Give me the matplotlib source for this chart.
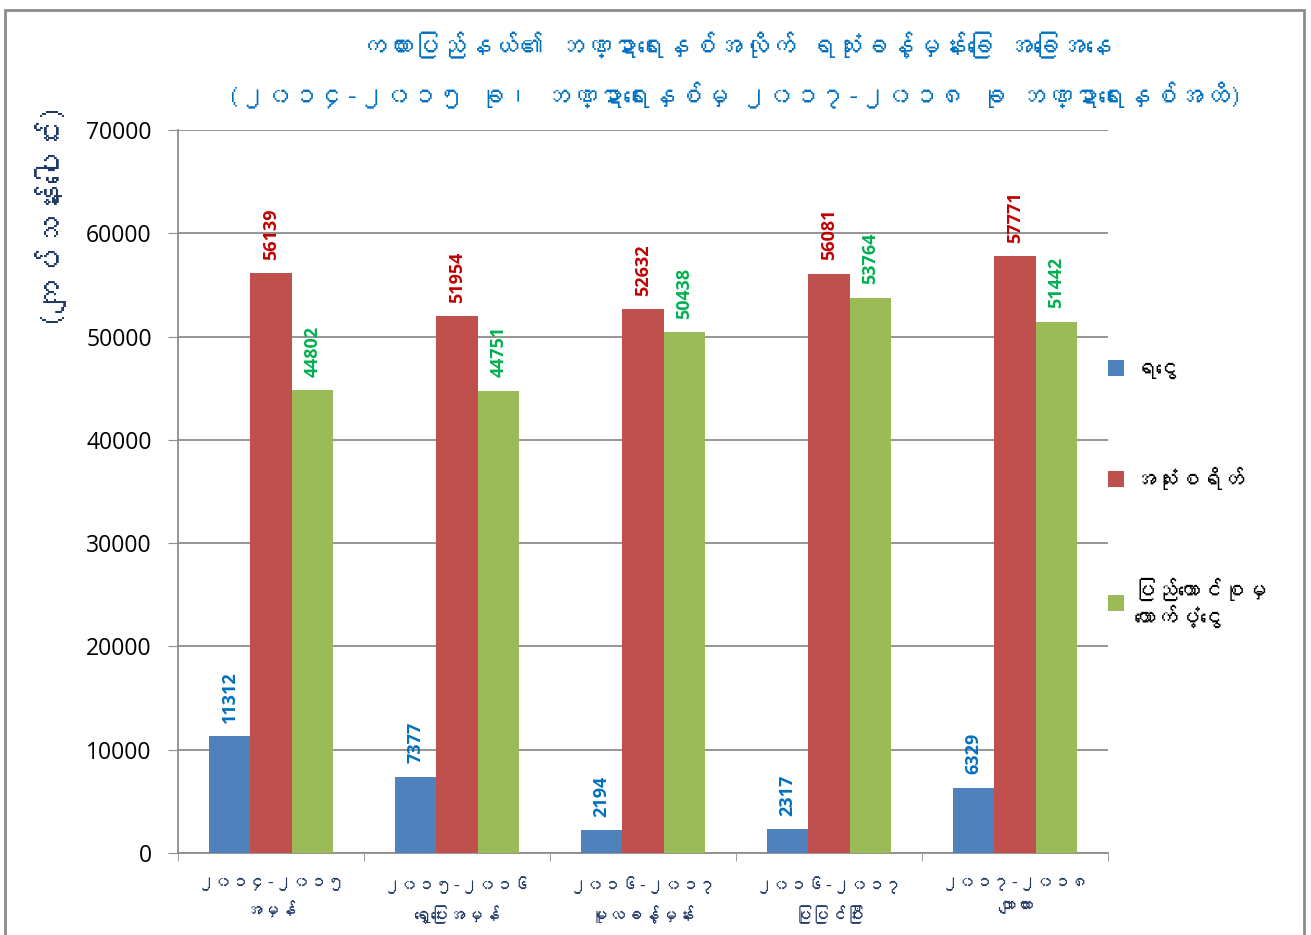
import numpy as np
import matplotlib
matplotlib.use("Agg")
import matplotlib.pyplot as plt
from matplotlib import font_manager
from matplotlib.ft2font import FT2Font
from matplotlib.patches import Rectangle

# Data
categories = [
    "၂၀၁၄-၂၀၁၅\nအမှန်",
    "၂၀၁၅-၂၀၁၆\nရှေ့ပြေးအမှန်",
    "၂၀၁၆-၂၀၁၇\nမူလခန့်မှန်း",
    "၂၀၁၆-၂၀၁၇\nပြုပြင်ပြီး",
    "၂၀၁၇-၂၀၁၈\nလျာထား",
]
series_names = ["ရငွေ", "အသုံးစရိတ်", "ပြည်ထောင်စုမှ\nထောက်ပံ့ငွေ"]
revenue = [11312, 7377, 2194, 2317, 6329]
expenditure = [56139, 51954, 52632, 56081, 57771]
union_grant = [44802, 44751, 50438, 53764, 51442]

title = ("ကယားပြည်နယ်၏ ဘဏ္ဍာရေးနှစ်အလိုက် ရသုံးခန့်မှန်းခြေ အခြေအနေ\n"
         "(၂၀၁၄-၂၀၁၅ ခု၊ ဘဏ္ဍာရေးနှစ်မှ ၂၀၁၇-၂၀၁၈ ခု ဘဏ္ဍာရေးနှစ်အထိ)")
ylabel = "(ကျပ်သန်းပေါင်း)"


# look for any installed font that has Myanmar glyphs
def find_myanmar_font():
    for f in font_manager.fontManager.ttflist:
        try:
            if 0x1000 in FT2Font(f.fname).get_charmap():
                return f.name
        except Exception:
            pass
    return None


mm_font = find_myanmar_font()
mm_family = [mm_font, "DejaVu Sans"] if mm_font else ["DejaVu Sans"]
num_family = ["Open Sans", "DejaVu Sans"]
plt.rcParams["font.family"] = mm_family

bar_colors = ["#4F81BD", "#C0504D", "#9BBB59"]
label_colors = ["#0070C0", "#C00000", "#00B050"]

fig = plt.figure(figsize=(13.11, 9.35), dpi=100)
ax = fig.add_axes([0.1358, 0.0877, 0.7094, 0.7733])

x = np.arange(len(categories))
width = 0.223
bars = []
for i, vals in enumerate([revenue, expenditure, union_grant]):
    b = ax.bar(x + (i - 1) * width, vals, width, color=bar_colors[i],
               label=series_names[i], zorder=3)
    bars.append(b)
    for rect, v in zip(b, vals):
        ax.text(rect.get_x() + rect.get_width() / 2, v + 1300, str(v),
                rotation=90, ha="center", va="bottom", fontsize=13,
                fontweight="bold", color=label_colors[i], family=num_family)

ax.set_xlim(-0.5, len(categories) - 0.5)
ax.set_ylim(0, 70000)
ax.set_yticks(np.arange(0, 70001, 10000))
ax.set_yticklabels([str(v) for v in range(0, 70001, 10000)],
                   fontsize=16.5, family=num_family)
ax.yaxis.grid(True, color="#8C8C8C", linewidth=1.3, zorder=0)
ax.set_axisbelow(True)

ax.set_xticks(x)
ax.set_xticklabels(categories, fontsize=12.5, color="#1F3864", linespacing=1.7)
ax.set_xticks(np.arange(-0.5, len(categories), 1), minor=True)
ax.tick_params(axis="x", which="major", length=0, pad=17)
ax.tick_params(axis="x", which="minor", length=6, color="#8C8C8C")
ax.tick_params(axis="y", length=7, color="#8C8C8C", pad=12)

for s in ["top", "right"]:
    ax.spines[s].set_visible(False)
for s in ["left", "bottom"]:
    ax.spines[s].set_color("#8C8C8C")
    ax.spines[s].set_linewidth(1.3)

fig.text(0.561, 0.966, title, ha="center", va="top", fontsize=19,
         fontweight="bold", color="#0070C0", linespacing=2.0)
fig.text(0.034, 0.775, ylabel, rotation=90, ha="center", va="center",
         fontsize=23, color="#1F3864")

ax.legend(handles=bars, loc="upper left", bbox_to_anchor=(0.845, 0.615),
          bbox_transform=fig.transFigure, frameon=False, fontsize=16,
          handlelength=0.75, handleheight=0.75, handletextpad=0.4,
          borderpad=0, borderaxespad=0, labelspacing=3.95)

fig.patches.append(Rectangle((0.004, -0.01), 0.991, 0.9995, fill=False,
                             edgecolor="#8C8C8C", linewidth=2,
                             transform=fig.transFigure))

fig.savefig("out.png", dpi=100)
